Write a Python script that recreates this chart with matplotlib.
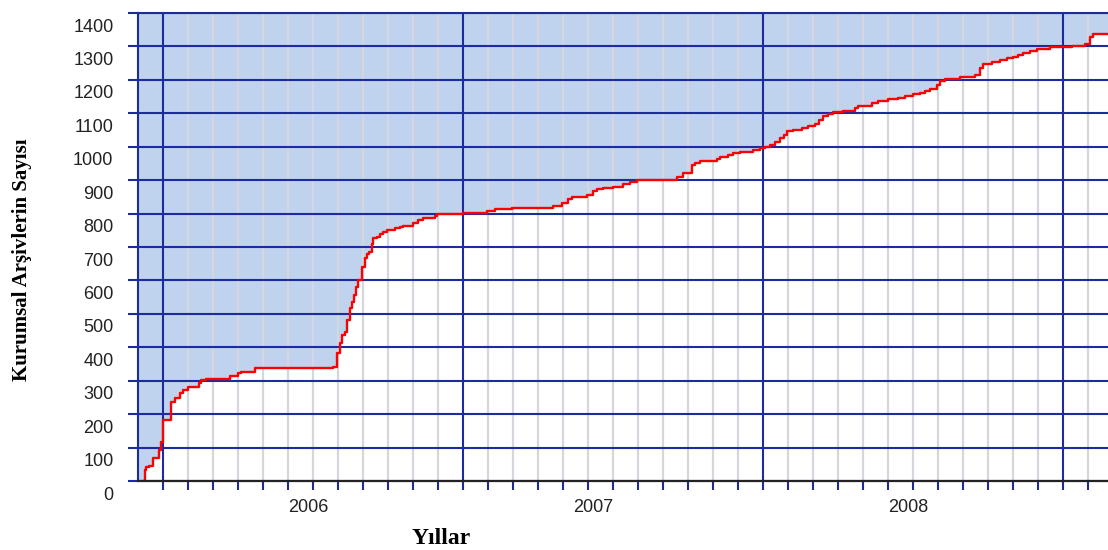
"""Cumulative count of institutional archives, 2006-2008 (step chart)"""

import matplotlib
matplotlib.use('Agg')
import matplotlib.pyplot as plt
from matplotlib.transforms import ScaledTranslation

NAVY = '#1c2b9e'
FILL = '#bfd2ee'
MONTH_GRID = '#d6d6de'

# x = months since Jan 2006, y = number of archives (step, where='post')
months = [-0.75, -0.73, -0.68, -0.57, -0.40, -0.17, -0.09, 0.0, 0.32, 0.47,
          0.67, 0.80, 1.00, 1.43, 1.52, 1.72, 2.67, 3.00, 3.12, 3.67,
          6.80, 6.97, 7.08, 7.15, 7.28, 7.37, 7.48, 7.55, 7.64, 7.72,
          7.81, 7.95, 8.08, 8.15, 8.25, 8.35, 8.41, 8.55, 8.68, 8.81,
          8.97, 9.28, 9.48, 9.61, 10.01, 10.21, 10.41, 10.88, 10.95, 12.0,
          12.95, 13.28, 13.95, 15.61, 15.95, 16.21, 16.35, 16.95, 17.21, 17.35,
          17.61, 18.01, 18.41, 18.68, 18.95, 20.55, 20.79, 21.15, 21.28, 21.48,
          22.15, 22.28, 22.61, 22.81, 23.08, 23.61, 23.88, 24.08, 24.28, 24.48,
          24.68, 24.84, 24.95, 25.21, 25.55, 25.81, 26.08, 26.25, 26.41, 26.61,
          26.81, 27.21, 27.68, 27.81, 28.35, 28.61, 29.01, 29.41, 29.68, 30.01,
          30.28, 30.48, 30.68, 30.95, 31.08, 31.28, 31.88, 32.48, 32.68, 32.81,
          33.15, 33.48, 33.75, 34.01, 34.21, 34.41, 34.68, 34.95, 35.48, 36.35,
          36.88, 37.08, 37.21, 37.8]
counts = [0, 33, 42, 45, 69, 93, 118, 182, 237, 248,
          263, 272, 282, 293, 302, 305, 314, 323, 327, 337,
          342, 383, 413, 437, 447, 482, 517, 536, 556, 581,
          601, 641, 666, 678, 686, 708, 726, 731, 738, 744,
          751, 756, 760, 764, 771, 781, 788, 794, 798, 803,
          808, 813, 818, 824, 831, 843, 849, 855, 868, 873,
          877, 880, 888, 895, 900, 908, 920, 945, 952, 957,
          962, 970, 975, 980, 984, 990, 995, 1000, 1005, 1013,
          1025, 1035, 1047, 1050, 1055, 1063, 1067, 1080, 1093, 1097,
          1103, 1106, 1116, 1122, 1130, 1136, 1142, 1147, 1153, 1158,
          1162, 1168, 1174, 1185, 1196, 1204, 1209, 1216, 1236, 1246,
          1254, 1259, 1264, 1269, 1274, 1279, 1286, 1292, 1297, 1301,
          1306, 1329, 1338, 1338]

year_labels = ['2006', '2007', '2008']
year_label_pos = [5.8, 17.2, 29.8]
y_ticks = list(range(0, 1401, 100))

fig = plt.figure(figsize=(11.08, 5.5), dpi=100)
ax = fig.add_axes([138/1108, 69/550, 970/1108, 468/550])
ax.set_xlim(-1, 37.8)
ax.set_ylim(0, 1400)

# blue area above the curve (and left of its start)
ax.fill_between(months, counts, 1400, step='post', color=FILL, lw=0, zorder=1)
ax.axvspan(ax.get_xlim()[0], months[0], color=FILL, lw=0, zorder=1)

# month grid (light) and year grid (navy)
for m in range(0, 38):
    if m % 12 == 0:
        ax.axvline(m, color=NAVY, lw=1.5, zorder=1.6)
    else:
        ax.axvline(m, color=MONTH_GRID, lw=1.6, zorder=1.2)

ax.set_yticks(y_ticks)
ax.yaxis.grid(True, color=NAVY, lw=1.5, zorder=1.5)

ax.step(months, counts, where='post', color='red', lw=1.7, zorder=3)

# ticks
ax.xaxis.remove_overlapping_locs = False
ax.set_xticks(range(0, 38))
ax.tick_params(axis='x', which='major', length=6.5, width=1.5, color=NAVY,
               labelbottom=False)
ax.set_xticks(year_label_pos, labels=year_labels, minor=True)
ax.tick_params(axis='x', which='minor', length=0, pad=13, labelsize=13,
               labelcolor='#222222')
ax.tick_params(axis='y', length=7.2, width=1.5, color=NAVY, pad=10.5,
               labelsize=13, labelcolor='#222222')
for lab in ax.get_yticklabels():
    lab.set_fontfamily('Liberation Sans')
    lab.set_transform(lab.get_transform() + ScaledTranslation(0, -0.12, fig.dpi_scale_trans))
for lab in ax.get_xticklabels(minor=True):
    lab.set_fontfamily('Liberation Sans')

ax.spines['right'].set_visible(False)
ax.spines['top'].set_color(NAVY)
ax.spines['top'].set_linewidth(1.5)
ax.spines['left'].set_color(NAVY)
ax.spines['left'].set_linewidth(1.5)
ax.spines['bottom'].set_color('#222222')
ax.spines['bottom'].set_linewidth(1.6)
ax.spines['bottom'].set_zorder(4)

fig.text(22/1108, 1 - 260/550, 'Kurumsal Arşivlerin Sayısı', rotation=90,
         family='Liberation Serif', weight='bold', fontsize=15,
         ha='center', va='center')
fig.text(441/1108, 1 - 539/550, 'Yıllar', family='Liberation Serif',
         weight='bold', fontsize=17, ha='center', va='center')

fig.savefig('out.png', dpi=100)
